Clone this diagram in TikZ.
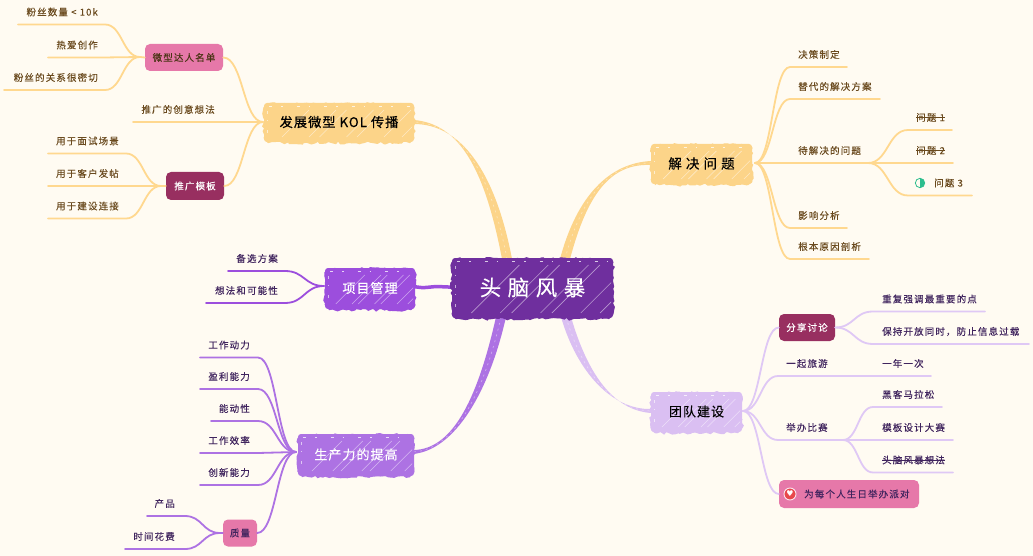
\documentclass[tikz,border=0pt]{standalone}
\usepackage{fontspec}
\usetikzlibrary{calc,decorations.pathmorphing}
\newfontfamily\cjk[LetterSpace=12,FakeBold=0.2]{Noto Sans CJK SC}
\newfontfamily\cjkhead[LetterSpace=8,FakeBold=0.35]{Noto Sans CJK SC}
\newfontfamily\djv{DejaVu Sans}
\definecolor{paper}{HTML}{FFFBF2}
\definecolor{orangeL}{HTML}{FFD88F}
\definecolor{orangeB}{HTML}{FCD489}
\definecolor{lilac}{HTML}{DFC8F5}
\definecolor{lilacB}{HTML}{DABFF2}
\definecolor{violet}{HTML}{9C4EDD}
\definecolor{violetL}{HTML}{AD72E3}
\definecolor{rootc}{HTML}{6F2F9E}
\definecolor{wine}{HTML}{982F60}
\definecolor{pinkb}{HTML}{E678A9}
\definecolor{brownt}{HTML}{6A4A1E}
\definecolor{purplet}{HTML}{40245E}
\definecolor{teal}{HTML}{2DBE8E}
\definecolor{heartred}{HTML}{E8484C}
\tikzset{
  conn/.style={line width=1.8pt,line cap=round,line join=round},
  conno/.style={conn,draw=orangeL},
  connl/.style={conn,draw=lilac},
  connv/.style={conn,draw=violet},
  connp/.style={conn,draw=violetL},
  txt/.style={inner sep=0pt,font=\cjk\fontsize{9.5}{10}\selectfont},
  pill/.style={rounded corners=5pt,inner sep=0pt,font=\cjk\fontsize{9.5}{10}\selectfont},
  scurve/.style={to path={.. controls ($(\tikztostart)!.5!(\tikztotarget |- \tikztostart)$) and ($(\tikztotarget)!.5!(\tikztostart |- \tikztotarget)$) .. (\tikztotarget)}},
}
% name, x1,y1,x2,y2, colour, text, text colour, size
\newcommand{\skbox}[9]{%
  \pgfmathsetmacro\skw{#4-#2}\pgfmathsetmacro\skh{#5-#3}%
  \pgfmathsetmacro\skcx{(#2+#4)/2}\pgfmathsetmacro\skcy{(#3+#5)/2}%
  \fill[#6,decorate,decoration={random steps,segment length=3pt,amplitude=1.5pt}]
     (#2+4,#3+.5) -- (#4-4,#3+.5) -- (#4+.5,#3+4) -- (#4+.5,#5-4) -- (#4-4,#5+1.2) -- (#2+4,#5+1.2) -- (#2-.5,#5-4) -- (#2-.5,#3+4) -- cycle;
  \node[fill=#6,rounded corners=3pt,minimum width=\skw pt,minimum height=\skh pt,inner sep=0pt] (#1-box) at (\skcx,\skcy) {};
  \begin{scope}
    \clip[rounded corners=4pt] (#2+2,#3+2) rectangle (#4-2,#5-3);
    \foreach \o in {.12,.3,.37,.55,.62,.8,.92}{
      \draw[white,opacity=.5,line width=.6pt] ({#2+\o*\skw},#5-5) -- ++(\skh-12,-\skh+12);
    }
    \draw[white,opacity=.75,line width=1pt,dash pattern=on 3pt off 9pt on 1.5pt off 14pt] (#2+5,#3+3.5) -- (#4-4,#3+3.5);
    \draw[white,opacity=.6,line width=1pt,dash pattern=on 3pt off 6pt on 1pt off 9pt] (#2+3.5,#3+8) -- (#2+3.5,#5-6);
  \end{scope}
  \node[text=#8,inner sep=0pt,font=\cjkhead\fontsize{#9}{#9}\selectfont] (#1) at (\skcx,\skcy-.5) {#7};
}
% tapered trunk: start a, controls, end b, half width at a (x), colour
\newcommand{\trunk}[6]{%
  \fill[#6] ($(#1)+(-#5,0)$) .. controls ($#2+(-#5,0)$) and #3 .. ($(#4)+(0,-2)$) -- ($(#4)+(0,2)$) .. controls #3 and ($#2+(#5,0)$) .. ($(#1)+(#5,0)$) -- cycle;
  \draw[white,opacity=.4,line width=.7pt,dash pattern=on 2pt off 4pt] (#1) .. controls #2 and #3 .. (#4);
}
% left-hand leaf: name, y of line, near x, far x, text right x, text
\newcommand{\leafL}[6]{%
  \coordinate (#1-a) at (#3,#2); \coordinate (#1-b) at (#4,#2);
  \node[txt,anchor=east,text=\leafcol] (#1) at (#5,#2-12.5) {#6};
}
% right-hand leaf: name, y of line, near x, far x, text left x, text
\newcommand{\leafR}[6]{%
  \coordinate (#1-a) at (#3,#2); \coordinate (#1-b) at (#4,#2);
  \node[txt,anchor=west,text=\leafcol] (#1) at (#5,#2-12.5) {#6};
}
\begin{document}
\begin{tikzpicture}[x=1pt,y=-1pt]
\pgfmathsetseed{11}
\useasboundingbox (0,0) rectangle (1033,556);
\fill[paper] (0,0) rectangle (1033,556);

% junction coordinates
\coordinate (rKol) at (507,259);
\coordinate (rSol) at (565,259);
\coordinate (rTeam) at (566,317);
\coordinate (rProd) at (501,317);
\coordinate (rProj) at (453,287);
\coordinate (kolE) at (414,122);
\coordinate (solW) at (651,163);
\coordinate (teamW) at (651,411);
\coordinate (prodE) at (413,452);
\coordinate (projE) at (414,287);
\coordinate (kolW) at (263,122);
\coordinate (solE) at (755,163);
\coordinate (teamE) at (743,411);
\coordinate (prodW) at (296,452);
\coordinate (projW) at (324,286);
\coordinate (jKolA) at (140,57);
\coordinate (jKolB) at (161,186);
\coordinate (jQ) at (220,533);
\coordinate (jCompete) at (843,440);

% trunks
\trunk{rKol}{(490,170)}{(460,124)}{kolE}{5}{orangeB}
\trunk{rSol}{(582,195)}{(610,163)}{solW}{5}{orangeB}
\trunk{rTeam}{(582,372)}{(612,410)}{teamW}{5}{lilacB}
\trunk{rProd}{(484,392)}{(455,450)}{prodE}{5}{violetL}
\draw[violet,line width=3.5pt,decorate,decoration={random steps,segment length=4pt,amplitude=.7pt}] (rProj) -- (projE);

% ---- KOL side
\def\leafcol{brownt}
\leafL{k1}{24.5}{105}{18}{98}{粉丝数量 < 10k}
\leafL{k2}{57.5}{103}{48}{98}{热爱创作}
\leafL{k3}{90}{105}{4}{98}{粉丝的关系很密切}
\leafL{k4}{122}{222}{133}{215}{推广的创意想法}
\leafL{k5}{153.5}{126}{48}{119}{用于面试场景}
\leafL{k6}{186}{125}{48}{119}{用于客户发帖}
\leafL{k7}{218.5}{126}{48}{119}{用于建设连接}
\foreach \n in {k1,k2,k3}{\draw[conno] (jKolA) to[scurve] (\n-a) -- (\n-b);}
\foreach \n in {k5,k6,k7}{\draw[conno] (jKolB) to[scurve] (\n-a) -- (\n-b);}
\draw[conno] (kolW) -- (k4-a) -- (k4-b);
\node[pill,fill=pinkb,text=brownt!70!black,minimum width=78pt,minimum height=27pt] (kA) at (184,57.5) {微型达人名单};
\node[pill,fill=wine,text=white,minimum width=58pt,minimum height=28pt] (kB) at (195,186) {推广模板};
\draw[conno] (kolW) to[scurve] (kA.east);
\draw[conno] (kolW) to[scurve] (kB.east);
\draw[conno] (kA.west) -- (jKolA);
\draw[conno] (kB.west) -- (jKolB);

% ---- Solve side
\leafR{s1}{67}{790}{847}{798}{决策制定}
\leafR{s2}{99}{790}{880}{798}{替代的解决方案}
\leafR{s3}{163}{790}{868}{798}{待解决的问题}
\leafR{s4}{228}{790}{847}{798}{影响分析}
\leafR{s5}{259}{790}{869}{798}{根本原因剖析}
\leafR{q1}{130}{908}{952}{916}{问题 1}
\leafR{q2}{163}{908}{953}{916}{问题 2}
\leafR{q3}{195.5}{908}{972}{934}{问题 3}
\foreach \n in {s1,s2,s3,s4,s5}{\draw[conno] (solE) to[scurve] (\n-a) -- (\n-b);}
\foreach \n in {q1,q2,q3}{\draw[conno] (s3-b) to[scurve] (\n-a) -- (\n-b);}
\draw[brownt,line width=.9pt] (q1.west) -- (q1.east);
\draw[brownt,line width=.9pt] (q2.west) -- (q2.east);
\coordinate (qicon) at (920,183);
\begin{scope}
  \clip ($(qicon)+(0,-6)$) rectangle ($(qicon)+(6,6)$);
  \fill[teal] (qicon) circle (4.7);
\end{scope}
\draw[line width=.8pt,draw=teal] (qicon) circle (4.7);

% ---- Team side
\def\leafcol{purplet}
\leafR{t1}{376}{778}{873}{786}{一起旅游}
\leafR{t2}{440}{778}{843}{786}{举办比赛}
\leafR{t3}{311.5}{873}{985}{882}{重复强调最重要的点}
\leafR{t4}{344}{873}{1029}{882}{保持开放同时，防止信息过载}
\leafR{t5}{376}{873}{931}{882}{一年一次}
\leafR{t6}{407}{873}{942}{882}{黑客马拉松}
\leafR{t7}{440}{873}{953}{882}{模板设计大赛}
\leafR{t8}{472.5}{873}{953}{882}{头脑风暴想法}
\node[pill,fill=wine,text=white,minimum width=56pt,minimum height=27pt] (tA) at (807,327.5) {分享讨论};
\node[pill,fill=pinkb,minimum width=140pt,minimum height=28pt] (tB) at (849,494) {};
\node[txt,text=purplet,anchor=west] (tBt) at (804,494) {为每个人生日举办派对};
\draw[connl] (teamE) to[scurve] (tA.west);
\draw[connl] (teamE) to[scurve] (t1-a) -- (t1-b);
\draw[connl] (teamE) to[scurve] (t2-a) -- (t2-b);
\draw[connl] (teamE) to[scurve] (tB.west);
\draw[connl] (tA.east) to[scurve] (t3-a) -- (t3-b);
\draw[connl] (tA.east) to[scurve] (t4-a) -- (t4-b);
\draw[connl] (t1-b) -- (t5-a) -- (t5-b);
\draw[connl] (jCompete) to[scurve] (t6-a) -- (t6-b);
\draw[connl] (jCompete) -- (t7-a) -- (t7-b);
\draw[connl] (jCompete) to[scurve] (t8-a) -- (t8-b);
\draw[purplet,line width=.9pt] (t8.west) -- (t8.east);
\coordinate (hicon) at (790,494);
\draw[fill=heartred,draw=white!80!pinkb,line width=.9pt] (hicon) circle (6);
\node[inner sep=0pt,text=white,font=\djv\fontsize{8}{8}\selectfont] (heart) at (hicon) {♥};

% ---- Project side
\leafL{p1}{271}{285}{228}{278}{备选方案}
\leafL{p2}{303}{285}{206}{278}{想法和可能性}
\foreach \n in {p1,p2}{\draw[connv] (projW) to[scurve] (\n-a) -- (\n-b);}

% ---- Productivity side
\leafL{d1}{357.5}{258}{200}{250}{工作动力}
\leafL{d2}{389}{258}{200}{250}{盈利能力}
\leafL{d3}{421}{258}{211}{250}{能动性}
\leafL{d4}{453}{258}{200}{250}{工作效率}
\leafL{d5}{485}{258}{200}{250}{创新能力}
\leafL{d6}{516}{185}{147}{175}{产品}
\leafL{d7}{549}{185}{125}{175}{时间花费}
\foreach \n in {d1,d2,d3,d4,d5}{\draw[connp] (prodW) to[scurve] (\n-a) -- (\n-b);}
\foreach \n in {d6,d7}{\draw[connp] (jQ) to[scurve] (\n-a) -- (\n-b);}
\node[pill,fill=pinkb,text=purplet,minimum width=34pt,minimum height=27pt] (dQ) at (240,533) {质量};
\draw[connp] (prodW) to[scurve] (dQ.east);
\draw[connp] (dQ.west) -- (jQ);

% ---- Main boxes
\skbox{kol}{264}{103}{414}{142}{orangeB}{发展微型 KOL 传播}{black}{13.2}
\skbox{sol}{651}{144}{752}{184}{orangeB}{解 决 问 题}{black}{13.5}
\skbox{team}{651}{392}{742}{432}{lilacB}{团队建设}{black}{13}
\skbox{proj}{325}{268}{415}{309}{violet}{项目管理}{white}{13}
\skbox{prod}{298}{434}{414}{476}{violetL}{生产力的提高}{white}{13}
\skbox{root}{452}{258}{613}{318}{rootc}{头 脑 风 暴}{white}{21.5}
\end{tikzpicture}
\end{document}
